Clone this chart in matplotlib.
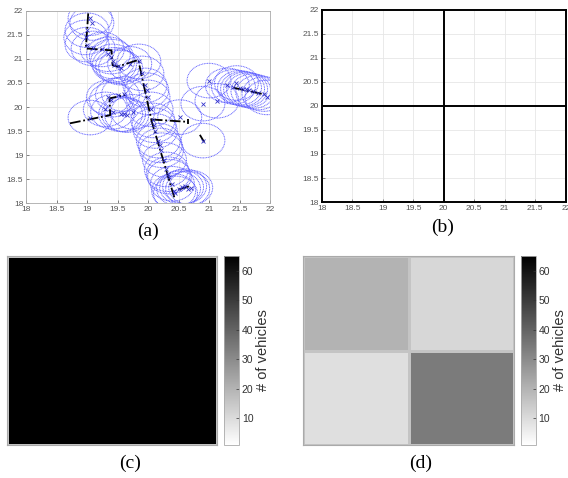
import numpy as np
import matplotlib.pyplot as plt
from matplotlib.patches import Circle

# vehicle positions (circle centres) for panel (a)
veh_x = [19.05, 19.00, 18.98, 19.00, 19.10, 19.25, 19.08,
         19.40, 19.42, 19.45, 19.50, 19.55, 19.70, 19.85, 19.35,
         19.90, 19.95, 20.00, 20.05, 20.08, 20.12, 20.17, 20.22, 20.27, 20.30, 20.35, 20.40, 20.42,
         19.98, 20.10, 20.20, 20.33,
         20.50, 20.55, 20.60, 20.65, 20.70, 20.45,
         19.05, 19.35, 19.40, 19.50, 19.60, 19.42, 19.55, 19.60, 19.65, 19.30, 19.75,
         20.52, 20.90, 20.90, 21.13, 21.00,
         21.30, 21.40, 21.50, 21.55, 21.60, 21.65, 21.72, 21.80, 21.90, 21.95, 21.45]
veh_y = [21.85, 21.60, 21.45, 21.30, 21.22, 21.20, 21.75,
         21.05, 20.95, 20.88, 20.85, 20.82, 20.90, 20.95, 21.10,
         20.70, 20.45, 20.20, 19.95, 19.72, 19.50, 19.30, 19.10, 18.90, 18.70, 18.55, 18.40, 18.25,
         20.35, 19.62, 19.20, 18.60,
         18.30, 18.33, 18.35, 18.30, 18.32, 18.20,
         19.78, 20.20, 20.15, 20.25, 20.27, 19.90, 19.85, 19.85, 19.83, 19.95, 19.90,
         19.79, 19.30, 20.07, 20.13, 20.55,
         20.45, 20.42, 20.40, 20.38, 20.37, 20.35, 20.33, 20.30, 20.27, 20.20, 20.50]
radius = 0.36

# black trajectories for panel (a)
paths = [
    ([19.02, 18.98, 19.40, 19.42, 19.50, 19.84, 20.06, 20.43],
     [21.95, 21.22, 21.18, 20.87, 20.84, 20.98, 19.70, 18.12]),
    ([18.72, 19.38, 19.37, 19.62], [19.66, 19.83, 20.18, 20.25]),
    ([20.06, 20.66], [19.74, 19.69]),
    ([20.66, 20.66], [19.64, 19.76]),
    ([20.85, 20.92], [19.42, 19.27]),
    ([21.40, 21.92], [20.40, 20.26]),
    ([20.50, 20.68], [18.28, 18.35]),
]

# grid lines for panel (b)
grid_x = [20]
grid_y = [20]

# vehicle counts per cell
counts_c = np.array([[65]])
counts_d = np.array([[9, 34],
                     [20, 11]])  # rows from bottom
vmin, vmax = 1, 65
cb_ticks = [10, 20, 30, 40, 50, 60]

plt.rcParams['font.family'] = 'Liberation Sans'
fig = plt.figure(figsize=(5.68, 4.78), dpi=100)

ticks = np.arange(18, 22.01, 0.5)
ticklabels = ['18', '18.5', '19', '19.5', '20', '20.5', '21', '21.5', '22']


def style_xy(ax, spine_color, spine_w):
    ax.set_xlim(18, 22)
    ax.set_ylim(18, 22)
    ax.set_xticks(ticks)
    ax.set_yticks(ticks)
    ax.set_xticklabels(ticklabels)
    ax.set_yticklabels(ticklabels)
    ax.tick_params(direction='in', length=2, width=0.5, labelsize=6,
                   colors='#555555', pad=2)
    ax.grid(True, color='#e6e6e6', linewidth=0.6)
    ax.set_axisbelow(True)
    for s in ax.spines.values():
        s.set_color(spine_color)
        s.set_linewidth(spine_w)


# (a)
ax_a = fig.add_axes([0.0458, 0.5753, 0.4296, 0.4017])
style_xy(ax_a, '#aaaaaa', 0.6)
for cx, cy in zip(veh_x, veh_y):
    ax_a.add_patch(Circle((cx, cy), radius, fill=False, edgecolor='#6262ff',
                          linestyle=(0, (1, 0.7)), linewidth=0.7))
for px, py in paths:
    ax_a.plot(px, py, color='black', linestyle='-.', linewidth=1.3,
              dashes=(6, 1.5, 1, 1.5))
ax_a.plot(veh_x, veh_y, 'x', color='#3333cc', markersize=3, markeredgewidth=0.6)

# (b)
ax_b = fig.add_axes([0.5664, 0.5774, 0.4296, 0.4017])
style_xy(ax_b, 'black', 1.4)
for gx in grid_x:
    ax_b.axvline(gx, color='black', linewidth=1.4)
for gy in grid_y:
    ax_b.axhline(gy, color='black', linewidth=1.4)


def heat(rect, cbrect, counts):
    ax = fig.add_axes(rect)
    n = counts.shape[0]
    edges = np.linspace(18, 22, n + 1)
    m = ax.pcolormesh(edges, edges, counts, cmap='gray_r', vmin=vmin, vmax=vmax,
                      edgecolor='#c4c4c4', linewidth=0.8)
    ax.set_xticks([])
    ax.set_yticks([])
    for s in ax.spines.values():
        s.set_color('#aaaaaa')
        s.set_linewidth(0.8)
    cax = fig.add_axes(cbrect)
    cb = fig.colorbar(m, cax=cax, ticks=cb_ticks)
    cb.outline.set_edgecolor('#aaaaaa')
    cb.outline.set_linewidth(0.6)
    cax.tick_params(direction='in', length=2, width=0.5, labelsize=7.5,
                    colors='#333333', pad=2)
    cb.set_label('# of vehicles', fontsize=10.5, color='#333333', labelpad=2)
    return ax


heat([0.0123, 0.069, 0.3697, 0.3954], [0.3944, 0.069, 0.0264, 0.3954], counts_c)
heat([0.5335, 0.069, 0.3715, 0.3954], [0.9173, 0.069, 0.0259, 0.3954], counts_d)

for lbl, x, y in [('(a)', 148, 231), ('(b)', 443, 227), ('(c)', 130, 463), ('(d)', 421, 463)]:
    fig.text(x / 568, 1 - y / 478, lbl, ha='center', va='center',
             fontsize=14, family='Liberation Serif')

fig.savefig('out.png', dpi=100)
